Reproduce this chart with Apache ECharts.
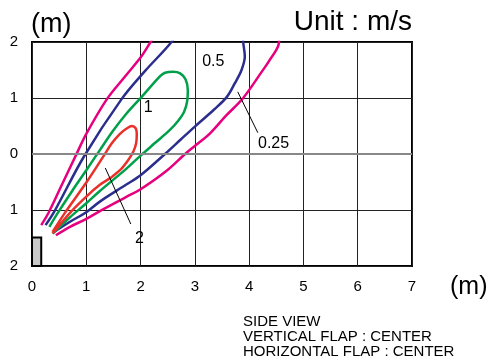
<!DOCTYPE html>
<html><head><meta charset="utf-8">
<script src="https://cdn.jsdelivr.net/npm/echarts/dist/echarts.min.js"></script>
<style>html,body{margin:0;padding:0;background:#fff}#c{width:490px;height:364px}</style>
</head><body><div id="c"></div>
<script>
// Axis ticks
const xTicks = [0, 1, 2, 3, 4, 5, 6, 7];
const yTicks = [2, 1, 0, -1, -2];

// Contour lines (x in m, y in m)
const curve025 = [[0.17,-1.27],[0.31,-1.04],[0.55,-0.55],[0.81,-0.02],[1.0,0.36],[1.38,0.98],[1.71,1.38],[2.02,1.75],[2.21,2.04],
  [2.45,2.4],[2.9,2.75],[3.5,2.9],[4.1,2.75],[4.45,2.35],
  [4.55,2.0],[4.38,1.68],[4.24,1.48],[3.89,1.0],[3.57,0.68],[3.28,0.37],[3.02,0.16],[2.82,0.0],[2.48,-0.30],[2.0,-0.63],[1.73,-0.77],[1.25,-1.02],[1.0,-1.16],[0.7,-1.30],[0.44,-1.45]];
const curve05 = [[0.25,-1.27],[0.41,-1.03],[0.96,-0.04],[1.65,0.98],[2.08,1.48],[2.57,2.0],
  [2.85,2.4],[3.3,2.6],[3.75,2.45],[3.88,2.2],
  [3.89,2.0],[3.92,1.74],[3.86,1.5],[3.74,1.27],[3.59,1.02],[3.35,0.79],[3.0,0.49],[2.73,0.25],[2.45,0.0],[2.0,-0.38],[1.73,-0.55],[1.25,-0.85],[1.0,-1.04],[0.7,-1.21],[0.38,-1.41]];
const curve1 = [[0.32,-1.30],[0.49,-1.03],[0.74,-0.66],[1.0,-0.29],[1.25,0.07],[1.49,0.41],[1.73,0.71],[2.02,1.02],[2.36,1.39],[2.45,1.45],[2.6,1.47],[2.73,1.44],[2.83,1.33],[2.87,1.14],[2.86,0.95],[2.8,0.75],[2.69,0.59],[2.54,0.43],[2.27,0.2],[2.0,-0.03],[1.73,-0.27],[1.25,-0.66],[1.0,-0.88],[0.7,-1.13],[0.38,-1.42]];
const curve2 = [[0.38,-1.39],[0.6,-1.06],[1.0,-0.51],[1.33,-0.02],[1.47,0.19],[1.62,0.36],[1.75,0.46],[1.84,0.5],[1.91,0.46],[1.93,0.36],[1.92,0.2],[1.87,0.05],[1.77,-0.11],[1.62,-0.29],[1.44,-0.43],[1.25,-0.55],[1.0,-0.76],[0.7,-1.05],[0.38,-1.42]];

// Contour labels (value text and position in m)
const contourLabels = [
  {name: '0.5', value: [3.34, 1.65]},
  {name: '1', value: [2.14, 0.83]},
  {name: '0.25', value: [4.45, 0.19]},
  {name: '2', value: [1.98, -1.51]}
];
const leader025 = [[3.79, 1.11], [4.16, 0.38]];
const leader2 = [[1.35, -0.25], [1.82, -1.25]];

// Indoor unit box (corner points in m)
const unitBox = [[0, -2], [0.17, -1.49]];

const FONT = 'Liberation Sans, Arial, sans-serif';
const chart = echarts.init(document.getElementById('c'));
const lineSeries = (data, color) => ({
  type: 'line', data, smooth: 0.35, symbol: 'none', clip: true, z: 4,
  lineStyle: {color, width: 2.5}, silent: true
});
chart.setOption({
  animation: false,
  backgroundColor: '#fff',
  grid: {left: 32, top: 42, width: 380, height: 224, show: true, borderColor: '#000', borderWidth: 2, backgroundColor: 'transparent'},
  xAxis: {
    type: 'value', min: xTicks[0], max: xTicks[xTicks.length - 1], interval: 1,
    axisLine: {show: false}, axisTick: {show: false},
    axisLabel: {margin: 13, fontSize: 15, color: '#000', fontFamily: FONT},
    splitLine: {show: true, lineStyle: {color: '#222', width: 1}}
  },
  yAxis: {
    type: 'value', min: yTicks[yTicks.length - 1], max: yTicks[0], interval: 1,
    axisLine: {show: false}, axisTick: {show: false},
    axisLabel: {margin: 14, fontSize: 15, color: '#000', fontFamily: FONT, formatter: v => String(Math.abs(v))},
    splitLine: {show: true, lineStyle: {color: '#222', width: 1}}
  },
  series: [
    {
      type: 'line', data: [], z: 2, silent: true,
      markLine: {silent: true, symbol: 'none', label: {show: false},
        lineStyle: {color: '#888', width: 2, type: 'solid'}, data: [{yAxis: 0}]},
      markArea: {silent: true, itemStyle: {color: '#c8c8c8', borderColor: '#000', borderWidth: 2},
        data: [[{coord: unitBox[0]}, {coord: unitBox[1]}]]}
    },
    lineSeries(curve025, '#e6007e'),
    lineSeries(curve05, '#2b2e8c'),
    lineSeries(curve1, '#00a04a'),
    lineSeries(curve2, '#e8312a'),
    {type: 'line', data: leader025, symbol: 'none', lineStyle: {color: '#000', width: 1}, z: 5, silent: true},
    {type: 'line', data: leader2, symbol: 'none', lineStyle: {color: '#000', width: 1}, z: 5, silent: true},
    {
      type: 'scatter', data: contourLabels, symbolSize: 0, z: 6, silent: true,
      itemStyle: {color: '#000', opacity: 1},
      label: {show: true, position: 'inside', formatter: p => p.name, fontSize: 16, color: '#000', fontFamily: FONT, textBorderWidth: 0}
    }
  ],
  graphic: [
    {type: 'text', x: 31, y: 25, style: {text: '(m)', font: '27px ' + FONT, fill: '#000', textAlign: 'left', textVerticalAlign: 'middle'}},
    {type: 'text', x: 412, y: 22, style: {text: 'Unit : m/s', font: '28px ' + FONT, fill: '#000', textAlign: 'right', textVerticalAlign: 'middle'}},
    {type: 'text', x: 450, y: 287, style: {text: '(m)', font: '25px ' + FONT, fill: '#000', textAlign: 'left', textVerticalAlign: 'middle'}},
    {type: 'text', x: 243, y: 322, style: {text: 'SIDE VIEW', font: '15px ' + FONT, fill: '#000', textAlign: 'left', textVerticalAlign: 'middle'}},
    {type: 'text', x: 243, y: 337, style: {text: 'VERTICAL FLAP : CENTER', font: '15px ' + FONT, fill: '#000', textAlign: 'left', textVerticalAlign: 'middle'}},
    {type: 'text', x: 243, y: 352, style: {text: 'HORIZONTAL FLAP : CENTER', font: '15px ' + FONT, fill: '#000', textAlign: 'left', textVerticalAlign: 'middle'}}
  ]
});
</script>
</body></html>
